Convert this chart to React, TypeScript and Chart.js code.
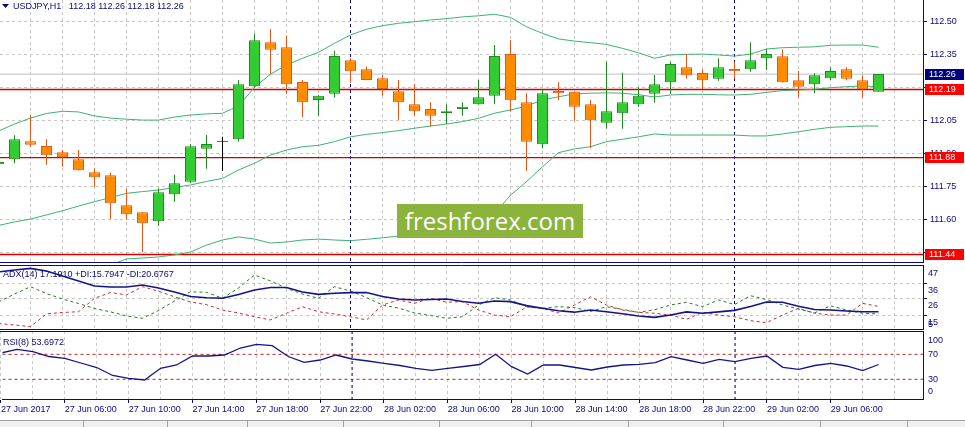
import React, { useEffect, useRef } from "react";
import { Chart, registerables } from "chart.js";

Chart.register(...registerables);

// ---------------- data ----------------
const symbol = "USDJPY";
const timeframe = "H1";
const firstBarIndex = -1; // bar index of the first (partly visible) candle, 27 Jun 02:00

const opens = [
  111.850, 111.873, 111.955, 111.933, 111.905, 111.873, 111.814, 111.800, 111.664, 111.632,
  111.591, 111.714, 111.771, 111.921, 111.953, 111.964, 112.205, 112.405, 112.382, 112.224,
  112.142, 112.171, 112.323, 112.282, 112.241, 112.182, 112.123, 112.101, 112.082, 112.101,
  112.123, 112.162, 112.351, 112.132, 111.941, 112.183, 112.180, 112.123, 112.039, 112.082,
  112.123, 112.171, 112.223, 112.291, 112.265, 112.239, 112.283, 112.282, 112.332, 112.341,
  112.232, 112.214, 112.241, 112.282, 112.232, 112.180,
];
const highs = [
  111.870, 111.982, 112.073, 111.964, 111.915, 111.915, 111.832, 111.812, 111.739, 111.632,
  111.741, 111.803, 111.941, 111.983, 111.975, 112.233, 112.444, 112.465, 112.435, 112.233,
  112.165, 112.366, 112.332, 112.294, 112.256, 112.233, 112.215, 112.132, 112.123, 112.132,
  112.233, 112.392, 112.415, 112.173, 112.188, 112.223, 112.180, 112.142, 112.316, 112.266,
  112.200, 112.256, 112.316, 112.351, 112.282, 112.332, 112.315, 112.405, 112.374, 112.373,
  112.274, 112.264, 112.291, 112.291, 112.255, 112.260,
];
const lows = [
  111.840, 111.855, 111.930, 111.848, 111.839, 111.822, 111.748, 111.600, 111.600, 111.450,
  111.570, 111.680, 111.764, 111.830, 111.820, 111.953, 112.200, 112.262, 112.171, 112.064,
  112.071, 112.153, 112.221, 112.232, 112.162, 112.050, 112.071, 112.021, 112.033, 112.071,
  112.121, 112.123, 112.089, 111.820, 111.923, 112.142, 112.048, 111.923, 112.012, 112.012,
  112.112, 112.130, 112.171, 112.239, 112.192, 112.230, 112.239, 112.271, 112.279, 112.222,
  112.155, 112.173, 112.233, 112.232, 112.153, 112.180,
];
const closes = [
  111.860, 111.964, 111.939, 111.891, 111.882, 111.823, 111.791, 111.673, 111.623, 111.582,
  111.723, 111.764, 111.932, 111.942, 111.953, 112.214, 112.414, 112.371, 112.214, 112.132,
  112.162, 112.342, 112.273, 112.233, 112.192, 112.132, 112.091, 112.071, 112.091, 112.112,
  112.155, 112.342, 112.141, 111.953, 112.173, 112.173, 112.112, 112.050, 112.091, 112.132,
  112.162, 112.214, 112.306, 112.255, 112.232, 112.291, 112.273, 112.323, 112.351, 112.223,
  112.203, 112.255, 112.274, 112.239, 112.191, 112.260,
];

const bbUpper = [
  112.001, 112.033, 112.060, 112.081, 112.091, 112.088, 112.070, 112.060, 112.055, 112.051,
  112.051, 112.065, 112.074, 112.079, 112.082, 112.115, 112.200, 112.260, 112.301, 112.332,
  112.359, 112.400, 112.438, 112.464, 112.480, 112.491, 112.498, 112.506, 112.512, 112.520,
  112.525, 112.532, 112.518, 112.475, 112.445, 112.420, 112.410, 112.403, 112.395, 112.377,
  112.357, 112.332, 112.347, 112.350, 112.351, 112.347, 112.342, 112.351, 112.374, 112.380,
  112.382, 112.384, 112.391, 112.392, 112.392, 112.382,
];
const bbMiddle = [
  111.572, 111.588, 111.601, 111.620, 111.639, 111.660, 111.680, 111.699, 111.718, 111.726,
  111.733, 111.745, 111.756, 111.772, 111.786, 111.824, 111.855, 111.892, 111.915, 111.930,
  111.936, 111.953, 111.975, 111.986, 111.994, 112.003, 112.014, 112.024, 112.033, 112.044,
  112.059, 112.082, 112.097, 112.115, 112.142, 112.157, 112.170, 112.173, 112.175, 112.173,
  112.166, 112.156, 112.165, 112.168, 112.168, 112.166, 112.165, 112.168, 112.177, 112.185,
  112.188, 112.191, 112.198, 112.203, 112.206, 112.203,
];
const bbLower = [
  111.142, 111.142, 111.142, 111.160, 111.206, 111.256, 111.324, 111.392, 111.420, 111.424,
  111.429, 111.438, 111.451, 111.483, 111.506, 111.520, 111.510, 111.492, 111.497, 111.506,
  111.510, 111.506, 111.503, 111.509, 111.516, 111.524, 111.529, 111.533, 111.538, 111.547,
  111.570, 111.624, 111.710, 111.771, 111.839, 111.903, 111.920, 111.930, 111.953, 111.964,
  111.975, 111.988, 111.983, 111.983, 111.983, 111.983, 111.983, 111.979, 111.979, 111.988,
  111.998, 112.009, 112.018, 112.021, 112.024, 112.024,
];

const adxMain = [
  43.3, 44.6, 45.6, 43.9, 40.6, 37.4, 34.1, 33.4, 33.4, 34.7,
  32.8, 30.1, 27.2, 26.4, 26.0, 28.5, 31.4, 33.1, 33.1, 30.1,
  28.6, 29.3, 29.7, 29.8, 27.2, 25.5, 24.9, 25.2, 25.5, 23.9,
  22.8, 24.2, 23.8, 21.2, 19.5, 17.8, 16.9, 18.3, 17.2, 15.9,
  14.4, 13.5, 15.0, 17.1, 16.2, 17.1, 18.1, 20.6, 23.6, 23.4,
  20.8, 18.7, 18.3, 17.7, 17.2, 17.19,
];
const adxPlusDI = [
  23.6, 28.8, 33.6, 29.1, 25.5, 22.6, 19.3, 17.1, 14.4, 12.9,
  18.0, 24.2, 30.3, 29.9, 26.0, 32.8, 41.3, 37.4, 32.6, 28.8,
  26.0, 33.6, 30.8, 26.5, 21.6, 19.6, 16.4, 14.7, 12.9, 13.9,
  21.6, 26.4, 24.9, 20.5, 19.4, 20.5, 20.0, 17.3, 20.5, 18.7,
  16.8, 18.5, 21.6, 23.4, 20.5, 24.9, 21.9, 27.7, 25.2, 21.6,
  19.0, 16.4, 21.1, 18.3, 16.2, 15.79,
];
const adxMinusDI = [
  9.5, 8.5, 7.4, 15.8, 16.7, 17.2, 26.0, 29.8, 28.2, 33.6,
  30.6, 27.0, 23.6, 21.8, 18.3, 16.4, 13.9, 11.8, 16.2, 20.5,
  17.2, 15.7, 13.9, 11.8, 21.6, 24.9, 22.7, 26.0, 23.4, 23.8,
  18.3, 15.0, 13.9, 20.3, 19.4, 16.4, 21.6, 27.0, 21.6, 18.3,
  16.8, 16.2, 15.0, 12.2, 16.8, 15.0, 13.9, 11.3, 10.0, 15.0,
  19.4, 16.2, 15.0, 15.0, 22.7, 20.68,
];
const rsiValues = [
  72.1, 78.0, 74.2, 66.5, 63.6, 56.1, 48.9, 36.1, 31.6, 28.9,
  47.6, 52.9, 67.3, 67.3, 68.9, 80.1, 86.0, 83.8, 66.5, 57.2,
  60.9, 68.9, 62.5, 59.3, 55.6, 52.1, 47.6, 44.4, 47.6, 50.5,
  53.7, 70.0, 50.2, 38.5, 52.9, 52.9, 48.9, 44.9, 49.7, 52.9,
  54.0, 56.6, 66.2, 60.9, 55.6, 62.0, 58.2, 63.6, 67.3, 49.2,
  46.0, 52.1, 55.6, 51.3, 43.8, 53.6972,
];

const adxTitle = "ADX(14) 17.1910 +DI:15.7947 -DI:20.6767";
const rsiTitle = "RSI(8) 53.6972";

// price axis
const priceMin = 111.4014;
const priceMax = 112.5968;
const priceTicks = [112.5, 112.35, 112.2, 112.05, 111.9, 111.75, 111.6, 111.45];
const bidPrice = 112.26;
const redLevels = [112.19, 111.88, 111.44];
const markerPrices = [112.26, 112.19, 111.88, 111.44];

// indicator axes
const adxMin = 5.2;
const adxMax = 47.85;
const adxGridTicks = [36, 26, 15];
const adxLabelTicks = [47, 36, 26, 15, 5];
const rsiMin = -1.5;
const rsiMax = 107.3;
const rsiLevels = [70, 30];
const rsiLabelTicks = [100, 70, 30, 0];

// time axis
const xMin = -0.90625;
const xMax = 56.78125;
const gridBarIdx = [-1, 1, 3, 5, 7, 9, 11, 13, 15, 17, 19, 21, 23, 25, 27, 29, 31, 33, 35, 37, 39, 41, 43, 45, 47, 49, 51, 53, 55];
const timeLabelIdx = [-1, 3, 7, 11, 15, 19, 23, 27, 31, 35, 39, 43, 47, 51];
const timeLabels = [
  "27 Jun 2017", "27 Jun 06:00", "27 Jun 10:00", "27 Jun 14:00", "27 Jun 18:00", "27 Jun 22:00",
  "28 Jun 02:00", "28 Jun 06:00", "28 Jun 10:00", "28 Jun 14:00", "28 Jun 18:00", "28 Jun 22:00",
  "29 Jun 02:00", "29 Jun 06:00",
];
const daySeparators = [21, 45];

// ---------------- style ----------------
const NAVY = "#0A0A7A";
const GRID = "#C8C8C8";
const UP_FILL = "#33CC33";
const UP_LINE = "#1F8A1F";
const DOWN_FILL = "#FF8C00";
const DOWN_LINE = "#E2561A";
const DOJI = "#000000";
const BAND = "#3CB371";
const LEVEL_RED = "#D40000";
const BID_GRAY = "#C0C0C0";
const BOX_RED = "#FF0000";
const BOX_NAVY = "#000080";
const FAMILY = "'Liberation Sans', Arial, sans-serif";
const FONT = `9px ${FAMILY}`;
const AXIS_W = 42;

const barX = opens.map((_, i) => i + firstBarIndex);
const bodyFill = opens.map((o, i) => (closes[i] > o ? UP_FILL : closes[i] < o ? DOWN_FILL : DOJI));
const bodyLine = opens.map((o, i) => (closes[i] > o ? UP_LINE : closes[i] < o ? DOWN_LINE : DOJI));

function series(values: number[]) {
  return values.map((v, i) => ({ x: barX[i], y: v }));
}
function level(v: number) {
  return [{ x: xMin, y: v }, { x: xMax, y: v }];
}

function makeX(withLabels: boolean): any {
  return {
    type: "linear",
    min: xMin,
    max: xMax,
    offset: false,
    afterBuildTicks: (s: any) => {
      s.ticks = gridBarIdx.map((v) => ({ value: v }));
    },
    afterFit: (s: any) => {
      s.height = withLabels ? 22 : 0;
    },
    ticks: {
      display: withLabels,
      autoSkip: false,
      maxRotation: 0,
      minRotation: 0,
      align: "start",
      padding: 1,
      color: NAVY,
      font: { family: FAMILY, size: 9 },
      callback: (v: number) => {
        const i = timeLabelIdx.indexOf(v);
        return i >= 0 ? timeLabels[i] : "";
      },
    },
    grid: {
      offset: false,
      color: GRID,
      lineWidth: 1,
      drawTicks: withLabels,
      tickLength: 4,
      tickWidth: 1,
      tickColor: (c: any) => (c.tick && timeLabelIdx.includes(c.tick.value) ? NAVY : "rgba(0,0,0,0)"),
      tickBorderDash: [],
    },
    border: { display: withLabels, color: NAVY, width: 1, dash: [3, 3] },
  };
}

function makeY(min: number, max: number, ticks: number[]): any {
  return {
    type: "linear",
    position: "right",
    min,
    max,
    afterBuildTicks: (s: any) => {
      s.ticks = ticks.map((v) => ({ value: v }));
    },
    afterFit: (s: any) => {
      s.width = AXIS_W;
    },
    ticks: { display: false },
    grid: {
      color: GRID,
      lineWidth: 1,
      drawTicks: true,
      tickLength: 4,
      tickWidth: 1,
      tickColor: NAVY,
      tickBorderDash: [],
    },
    border: { display: true, color: NAVY, width: 1, dash: [3, 3] },
  };
}

function drawSeparators(chart: any) {
  const { ctx, chartArea: a, scales } = chart;
  ctx.save();
  ctx.strokeStyle = NAVY;
  ctx.lineWidth = 1;
  ctx.setLineDash([3, 3]);
  for (const k of daySeparators) {
    const x = scales.x.getPixelForValue(k);
    ctx.beginPath();
    ctx.moveTo(x, a.top);
    ctx.lineTo(x, a.bottom);
    ctx.stroke();
  }
  ctx.restore();
}

function hline(ctx: CanvasRenderingContext2D, x1: number, x2: number, y: number) {
  ctx.save();
  ctx.strokeStyle = NAVY;
  ctx.lineWidth = 1;
  ctx.setLineDash([]);
  ctx.beginPath();
  ctx.moveTo(x1, y);
  ctx.lineTo(x2, y);
  ctx.stroke();
  ctx.restore();
}

function drawAxisLabels(
  chart: any,
  values: number[],
  fmt: (v: number) => string,
  dx: number,
  dy: number,
  clampTop: number,
  clampBottom: number
) {
  const { ctx, chartArea: a, scales } = chart;
  ctx.save();
  ctx.font = FONT;
  ctx.fillStyle = NAVY;
  ctx.textAlign = "left";
  ctx.textBaseline = "middle";
  for (const v of values) {
    let y = scales.y.getPixelForValue(v) + dy;
    y = Math.min(Math.max(y, a.top + clampTop), a.bottom - clampBottom);
    ctx.fillText(fmt(v), a.right + dx, y);
  }
  ctx.restore();
}

function drawTitle(chart: any, text: string, dy: number) {
  const { ctx, chartArea: a } = chart;
  ctx.save();
  ctx.font = FONT;
  ctx.fillStyle = NAVY;
  ctx.textAlign = "left";
  ctx.textBaseline = "middle";
  ctx.fillText(text, 3, a.top + dy);
  ctx.restore();
}

const baseOptions: any = {
  animation: false,
  responsive: false,
  maintainAspectRatio: false,
  events: [],
  layout: { padding: 0 },
  plugins: { legend: { display: false }, tooltip: { enabled: false }, title: { display: false } },
};

function mainConfig(): any {
  const lineDs = (data: any[], color: string, order: number, width = 1) => ({
    type: "line",
    data,
    borderColor: color,
    borderWidth: width,
    pointRadius: 0,
    tension: 0,
    fill: false,
    order,
  });
  return {
    type: "bar",
    data: {
      datasets: [
        {
          type: "bar",
          label: "body",
          data: barX.map((x, i) => ({ x, y: [opens[i], closes[i]] })),
          backgroundColor: bodyFill,
          borderColor: bodyLine,
          borderWidth: 1,
          borderSkipped: false,
          barThickness: 11,
          minBarLength: 1,
          grouped: false,
          inflateAmount: 0,
          order: 0,
        },
        {
          type: "bar",
          label: "wick",
          data: barX.map((x, i) => ({ x, y: [lows[i], highs[i]] })),
          backgroundColor: bodyLine,
          borderWidth: 0,
          barThickness: 1,
          grouped: false,
          inflateAmount: 0,
          order: 1,
        },
        lineDs(series(bbUpper), BAND, 2),
        lineDs(series(bbMiddle), BAND, 2),
        lineDs(series(bbLower), BAND, 2),
        lineDs(level(bidPrice), BID_GRAY, 3),
        ...redLevels.map((v) => lineDs(level(v), LEVEL_RED, 3, 1.3)),
      ],
    },
    options: {
      ...baseOptions,
      scales: { x: makeX(false), y: makeY(priceMin, priceMax, priceTicks) },
    },
    plugins: [
      {
        id: "mainDeco",
        beforeDatasetsDraw(chart: any) {
          drawSeparators(chart);
        },
        afterDraw(chart: any) {
          const { ctx, chartArea: a, scales } = chart;
          hline(ctx, 0, a.right, a.bottom - 0.5);
          drawAxisLabels(chart, priceTicks, (v) => v.toFixed(2), 7, 0, 6, 6);
          // price markers
          ctx.save();
          ctx.font = FONT;
          ctx.textAlign = "left";
          ctx.textBaseline = "middle";
          markerPrices.forEach((p, i) => {
            const y = scales.y.getPixelForValue(p);
            ctx.fillStyle = i === 0 ? BOX_NAVY : BOX_RED;
            ctx.fillRect(a.right + 2, Math.round(y - 5.5), 39, 11);
            ctx.fillStyle = "#FFFFFF";
            ctx.fillText(p.toFixed(2), a.right + 6, Math.round(y - 5.5) + 6);
          });
          // header
          ctx.fillStyle = NAVY;
          ctx.beginPath();
          ctx.moveTo(2, 4);
          ctx.lineTo(9, 4);
          ctx.lineTo(5.5, 8);
          ctx.closePath();
          ctx.fill();
          const n = closes.length - 1;
          const header = `${symbol},${timeframe}   ${opens[n].toFixed(2)} ${highs[n].toFixed(2)} ${lows[n].toFixed(2)} ${closes[n].toFixed(2)}`;
          ctx.fillText(header, 13, 6.5);
          ctx.restore();
        },
      },
    ],
  };
}

function adxConfig(): any {
  return {
    type: "line",
    data: {
      datasets: [
        {
          data: series(adxMain),
          borderColor: "#14148A",
          borderWidth: 1.6,
          pointRadius: 0,
          tension: 0,
          order: 0,
        },
        {
          data: series(adxPlusDI),
          borderColor: "#1E7E1E",
          borderWidth: 1,
          borderDash: [3, 3],
          pointRadius: 0,
          tension: 0,
          order: 1,
        },
        {
          data: series(adxMinusDI),
          borderColor: "#D02828",
          borderWidth: 1,
          borderDash: [3, 3],
          pointRadius: 0,
          tension: 0,
          order: 2,
        },
      ],
    },
    options: {
      ...baseOptions,
      scales: { x: makeX(false), y: makeY(adxMin, adxMax, adxGridTicks) },
    },
    plugins: [
      {
        id: "adxDeco",
        beforeDatasetsDraw(chart: any) {
          drawSeparators(chart);
          drawTitle(chart, adxTitle, 9.5);
        },
        afterDraw(chart: any) {
          const { ctx, chartArea: a } = chart;
          hline(ctx, 0, a.right, a.top + 0.5);
          hline(ctx, 0, a.right, a.bottom - 0.5);
          drawAxisLabels(chart, adxLabelTicks, (v) => String(v), 5, 7.5, 7, 5.5);
        },
      },
    ],
  };
}

function rsiConfig(): any {
  return {
    type: "line",
    data: {
      datasets: [
        {
          data: series(rsiValues),
          borderColor: "#14148A",
          borderWidth: 1.3,
          pointRadius: 0,
          tension: 0,
          order: 0,
        },
        ...rsiLevels.map((v) => ({
          data: level(v),
          borderColor: "#C02020",
          borderWidth: 1,
          borderDash: [3, 3],
          pointRadius: 0,
          order: 1,
        })),
      ],
    },
    options: {
      ...baseOptions,
      scales: { x: makeX(true), y: makeY(rsiMin, rsiMax, []) },
    },
    plugins: [
      {
        id: "rsiDeco",
        beforeDatasetsDraw(chart: any) {
          drawSeparators(chart);
          drawTitle(chart, rsiTitle, 12);
        },
        afterDraw(chart: any) {
          const { ctx, chartArea: a } = chart;
          hline(ctx, 0, a.right, a.top + 0.5);
          drawAxisLabels(chart, rsiLabelTicks, (v) => String(v), 5, 0, 10, 7);
        },
      },
    ],
  };
}

const tabSeparators = [83, 167, 247, 343, 439, 531, 628, 723, 820, 907];

export default function App() {
  const mainRef = useRef<HTMLCanvasElement>(null);
  const adxRef = useRef<HTMLCanvasElement>(null);
  const rsiRef = useRef<HTMLCanvasElement>(null);

  useEffect(() => {
    const charts = [
      new Chart(mainRef.current as HTMLCanvasElement, mainConfig()),
      new Chart(adxRef.current as HTMLCanvasElement, adxConfig()),
      new Chart(rsiRef.current as HTMLCanvasElement, rsiConfig()),
    ];
    return () => charts.forEach((c) => c.destroy());
  }, []);

  const canvasStyle = (top: number, h: number): React.CSSProperties => ({
    position: "absolute",
    left: 0,
    top,
    width: 965,
    height: h,
    display: "block",
  });

  return (
    <div
      style={{
        position: "fixed",
        left: 0,
        top: 0,
        width: 965,
        height: 427,
        background: "#FFFFFF",
        overflow: "hidden",
      }}
    >
      <canvas ref={mainRef} width={965} height={263} style={canvasStyle(0, 263)} />
      <canvas ref={adxRef} width={965} height={65} style={canvasStyle(265, 65)} />
      <canvas ref={rsiRef} width={965} height={90} style={canvasStyle(331, 90)} />
      <div
        style={{
          position: "absolute",
          left: 397,
          top: 204,
          width: 186,
          height: 34,
          background: "#8CB33C",
          color: "#FFFFFF",
          fontFamily: "'Open Sans', sans-serif",
          fontSize: 24,
          lineHeight: "34px",
          textAlign: "center",
        }}
      >
        freshforex.com
      </div>
      <div
        style={{
          position: "absolute",
          left: 0,
          top: 420,
          width: 965,
          height: 7,
          background: "#F0F0F0",
          borderTop: "1px solid #A0A0A0",
        }}
      >
        {tabSeparators.map((x) => (
          <div
            key={x}
            style={{ position: "absolute", left: x, top: 0, width: 1, height: 7, background: "#A0A0A0" }}
          />
        ))}
      </div>
    </div>
  );
}
